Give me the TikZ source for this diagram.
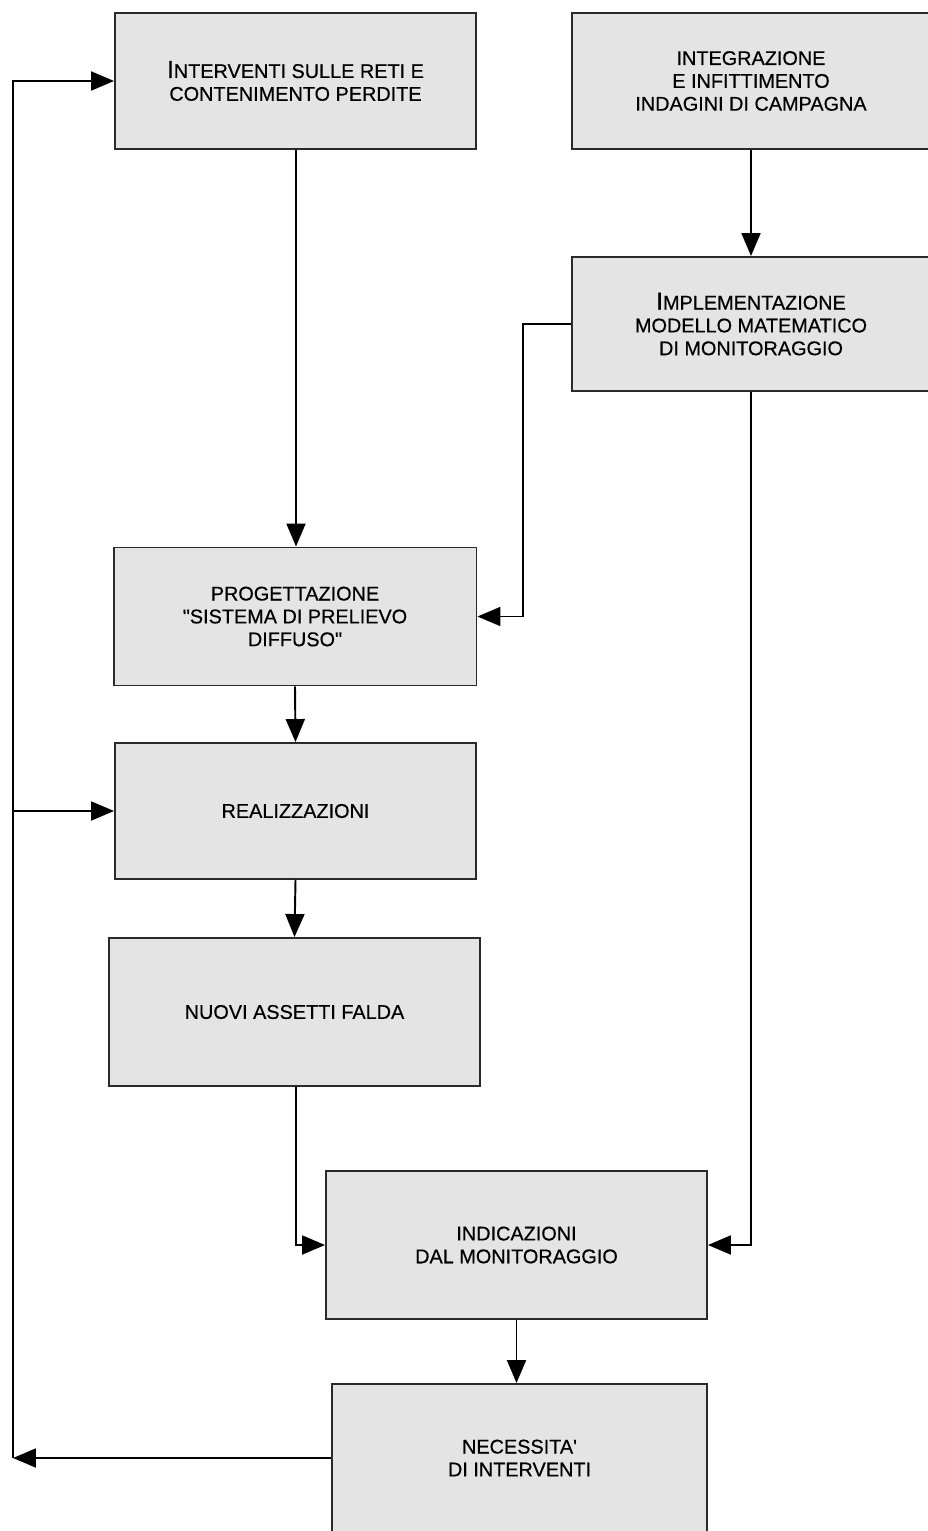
\documentclass[tikz,border=0pt]{standalone}
\usepackage{fontspec}
\setmainfont{Liberation Sans}
\newfontfamily\testo{Liberation Sans}[FakeBold=0.5]
\usepackage{xcolor}
\usepackage{tikz}
\usetikzlibrary{arrows.meta, positioning}

\definecolor{grigiobox}{HTML}{E4E4E4}
\definecolor{bordo}{HTML}{2A2A2A}

\tikzset{
  blocco/.style={draw=bordo, line width=1.1pt, fill=grigiobox, align=center,
    inner sep=0pt, font=\testo\fontsize{11.3}{13}\selectfont},
  freccia/.style={-{Triangle[length=0.46cm, width=0.38cm]}, line width=1.1pt, black}
}
\newcommand{\grande}[1]{{\fontsize{14}{13}\selectfont #1}}
\newcommand{\virg}{\symbol{34}}

\begin{document}
\begin{tikzpicture}[x=0.02cm, y=-0.02cm]
    \useasboundingbox (0,0) rectangle (927,1531);

    % 1. Blocchi
    \node[blocco, minimum width=7.22cm, minimum height=2.72cm] (interventi) at (295.5,81)
        {\grande{I}NTERVENTI SULLE RETI E\\CONTENIMENTO PERDITE};
    \node[blocco, minimum width=7.16cm, minimum height=2.72cm] (integrazione) at (751,81)
        {INTEGRAZIONE\\E INFITTIMENTO\\INDAGINI DI CAMPAGNA};
    \node[blocco, minimum width=7.16cm, minimum height=2.68cm] (implementazione) at (751,324)
        {\grande{I}MPLEMENTAZIONE\\MODELLO MATEMATICO\\DI MONITORAGGIO};
    \node[blocco, minimum width=7.26cm, minimum height=2.76cm] (progettazione) at (295,616.5)
        {PROGETTAZIONE\\\virg SISTEMA DI PRELIEVO\\DIFFUSO\virg};
    \node[blocco, minimum width=7.22cm, minimum height=2.72cm] (realizzazioni) at (295.5,811)
        {REALIZZAZIONI};
    \node[blocco, minimum width=7.42cm, minimum height=2.96cm] (assetti) at (294.5,1012)
        {NUOVI ASSETTI FALDA};
    \node[blocco, minimum width=7.62cm, minimum height=2.96cm] (indicazioni) at (516.5,1245)
        {INDICAZIONI\\DAL MONITORAGGIO};
    \node[blocco, minimum width=7.50cm, minimum height=2.96cm] (necessita) at (519.5,1458)
        {NECESSITA'\\DI INTERVENTI};

    % 2. Collegamenti principali
    \draw[freccia] (interventi.south -| 296,0) -- (progettazione.north -| 296,0);
    \draw[freccia] (integrazione.south) -- (implementazione.north);
    \draw[freccia] (implementazione.west) -- ++(-48,0) |- (progettazione.east);
    \draw[freccia] (progettazione.south) -- (realizzazioni.north);
    \draw[freccia] (realizzazioni.south) -- (assetti.north);
    \draw[freccia] ([xshift=0.03cm]assetti.south) |- (indicazioni.west);
    \draw[freccia] (implementazione.south) |- (indicazioni.east);
    \draw[freccia] (indicazioni.south) -- (necessita.north -| indicazioni.south);

    % 3. Ritorno a sinistra
    \coordinate (ritorno) at (13,1458);
    \draw[freccia] (necessita.west) -- (ritorno);
    \draw[freccia] (ritorno) |- (interventi.west);
    \draw[freccia] (ritorno |- realizzazioni.west) -- (realizzazioni.west);

\end{tikzpicture}
\end{document}
